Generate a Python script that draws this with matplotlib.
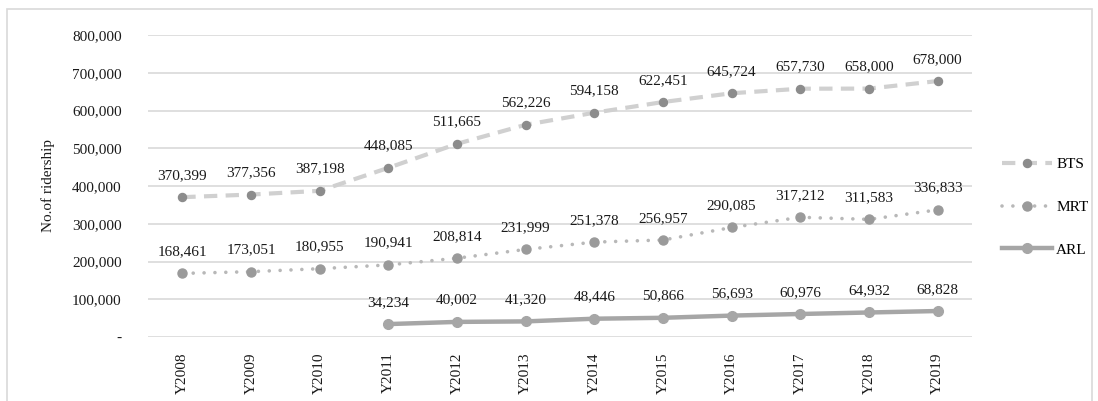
import matplotlib
matplotlib.use("Agg")
import matplotlib.pyplot as plt
from matplotlib.patches import Rectangle

years = ["Y2008", "Y2009", "Y2010", "Y2011", "Y2012", "Y2013", "Y2014",
         "Y2015", "Y2016", "Y2017", "Y2018", "Y2019"]
bts = [370399, 377356, 387198, 448085, 511665, 562226, 594158, 622451,
       645724, 657730, 658000, 678000]
mrt = [168461, 173051, 180955, 190941, 208814, 231999, 251378, 256957,
       290085, 317212, 311583, 336833]
arl_years = years[3:]
arl = [34234, 40002, 41320, 48446, 50866, 56693, 60976, 64932, 68828]

plt.rcParams['font.family'] = ['Liberation Serif', 'DejaVu Serif']

fig = plt.figure(figsize=(10.98, 4.01), dpi=100)
W, H = 1098, 401
ax = fig.add_axes([148 / W, 1 - 337 / H, (972 - 148) / W, (337 - 35) / H])

fig.patches.append(Rectangle((7 / W, -0.1), (1092 - 7) / W, (1 - 9 / H) + 0.1,
                             transform=fig.transFigure, fill=False,
                             edgecolor="#d9d9d9", linewidth=1.2))

x = list(range(len(years)))
xa = [years.index(y) for y in arl_years]

ax.plot(x, bts, linestyle=(0, (3.2, 2.0)), color="#d0d0d0", linewidth=3,
        marker="o", markersize=5.8, markerfacecolor="#8c8c8c",
        markeredgecolor="#8c8c8c", label="BTS", zorder=3)
ax.plot(x, mrt, linestyle=(0, (0.01, 3.0)), color="#b8b8b8", linewidth=2.6,
        dash_capstyle="round", marker="o", markersize=6.5,
        markerfacecolor="#9a9a9a", markeredgecolor="#9a9a9a", label="MRT", zorder=3)
ax.plot(xa, arl, linestyle="-", color="#a6a6a6", linewidth=3.2,
        marker="o", markersize=7, markerfacecolor="#a6a6a6",
        markeredgecolor="#a6a6a6", label="ARL", zorder=3)

for xs, ys in ((x, bts), (x, mrt), (xa, arl)):
    for xi, yi in zip(xs, ys):
        ax.annotate(f"{yi:,}", (xi, yi), xytext=(0, 11), textcoords="offset points",
                    ha="center", va="bottom", fontsize=11, color="#1a1a1a")

ax.set_xlim(-0.5, len(years) - 0.5)
ax.set_ylim(0, 800000)
ax.set_yticks(range(0, 800001, 100000))
ax.set_yticklabels(["-"] + [f"{v:,}" for v in range(100000, 800001, 100000)])
ax.set_xticks(x)
ax.set_xticklabels(years, rotation=90)
ax.yaxis.grid(True, color="#d9d9d9", linewidth=1.2)
ax.set_axisbelow(True)
for s in ax.spines.values():
    s.set_visible(False)
ax.tick_params(axis="both", length=0, labelsize=11, colors="#1a1a1a")
ax.tick_params(axis="y", pad=19)
ax.tick_params(axis="x", pad=11)
ax.set_ylabel("No.of ridership", fontsize=11, color="#1a1a1a", labelpad=12)

leg = ax.legend(loc="center left", bbox_to_anchor=(1.029, 0.43), frameon=False,
                fontsize=11, handlelength=3.3, labelspacing=1.9, handletextpad=0.25,
                borderaxespad=0.0)

fig.savefig("out.png", dpi=100)
